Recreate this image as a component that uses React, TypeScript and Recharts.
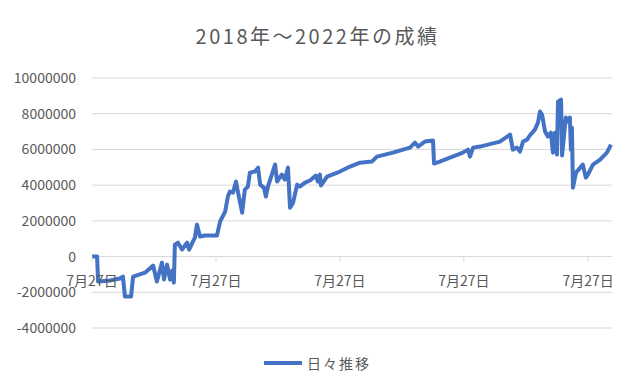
import { LineChart, Line, CartesianGrid, XAxis, YAxis, ReferenceDot } from "recharts";

// days since 2018-07-27
const days = [
  0, 15, 18, 53, 82, 91, 97, 115, 121, 156, 180, 191, 206, 212, 221, 230, 236,
  241, 244, 253, 265, 280, 286, 297, 303, 309, 318, 333, 368, 377, 392, 400,
  406, 415, 424, 430, 442, 450, 459, 465, 480, 489, 495, 506, 512, 518, 539,
  545, 559, 568, 577, 583, 592, 604, 612, 627, 642, 659, 665, 671, 674, 692,
  730, 760, 789, 824, 839, 886, 936, 951, 960, 980, 1004, 1007, 1024, 1054,
  1092, 1107, 1113, 1122, 1142, 1201, 1231, 1239, 1251, 1260, 1269, 1281,
  1289, 1304, 1313, 1319, 1325, 1334, 1342, 1351, 1357, 1363, 1369, 1372,
  1381, 1384, 1395, 1401, 1407, 1410, 1413, 1416, 1425, 1445, 1454, 1460,
  1475, 1496, 1516, 1528,
];

const values = [
  0, 0, -1400000, -1340000, -1230000, -1120000, -2240000, -2240000, -1120000,
  -900000, -500000, -1400000, -340000, -1290000, -450000, -1290000, -780000,
  -1460000, 670000, 780000, 390000, 780000, 390000, 840000, 1060000, 1790000,
  1120000, 1180000, 1180000, 1960000, 2520000, 3360000, 3640000, 3580000,
  4200000, 3580000, 2460000, 3750000, 3920000, 4700000, 4760000, 4980000,
  4030000, 3860000, 3360000, 3920000, 5150000, 4200000, 4590000, 4310000,
  4980000, 2740000, 3020000, 4030000, 3920000, 4140000, 4260000, 4540000,
  4200000, 4590000, 3980000, 4480000, 4760000, 5040000, 5260000, 5320000,
  5600000, 5820000, 6100000, 6380000, 6160000, 6440000, 6500000, 5210000,
  5320000, 5540000, 5820000, 5990000, 5600000, 6100000, 6160000, 6440000,
  6830000, 5990000, 6100000, 5880000, 6440000, 6550000, 6780000, 7110000,
  7500000, 8120000, 7950000, 7000000, 6720000, 6940000, 5820000, 6940000,
  5710000, 8680000, 8790000, 5660000, 7790000, 7560000, 7790000, 5990000,
  7220000, 3860000, 4700000, 5150000, 4420000, 4590000, 5150000, 5430000,
  5820000, 6270000,
];

const yearTicks = [0, 365, 730, 1095, 1461];
const yTicks = [-4000000, -2000000, 0, 2000000, 4000000, 6000000, 8000000, 10000000];
const tickLabel = "7月27日";
const seriesName = "日々推移";
const title = "2018年～2022年の成績";

const data = days.map((day, i) => ({ day, value: values[i] }));

const FONT = '"Noto Sans CJK JP", "Noto Sans", sans-serif';
const TEXT = "#595959";
const GRID = "#d9d9d9";
const BLUE = "#4472C4";

function YearTick(props: any) {
  const { cx, cy } = props;
  return (
    <g>
      <line x1={cx} y1={cy} x2={cx} y2={cy + 5} stroke={GRID} strokeWidth={1} />
      <text
        x={cx}
        y={cy + 23}
        textAnchor="middle"
        dominantBaseline="central"
        fill={TEXT}
        fontSize={14}
        fontFamily={FONT}
      >
        {tickLabel}
      </text>
    </g>
  );
}

export default function App() {
  return (
    <div
      style={{
        position: "relative",
        width: 633,
        height: 391,
        margin: -8,
        boxSizing: "border-box",
        border: `1px solid ${GRID}`,
        background: "#fff",
        fontFamily: FONT,
      }}
    >
      <div
        style={{
          position: "absolute",
          top: 24,
          left: 0,
          width: 633,
          textAlign: "center",
          fontSize: 20,
          lineHeight: "22px",
          letterSpacing: 2.5,
          color: TEXT,
        }}
      >
        {title}
      </div>
      <div style={{ position: "absolute", left: -1, top: -1 }}>
        <LineChart
          width={633}
          height={391}
          data={data}
          margin={{ top: 78, right: 21, bottom: 63, left: 12 }}
        >
          <CartesianGrid vertical={false} stroke={GRID} strokeDasharray="" />
          <XAxis dataKey="day" type="number" domain={[0, 1531]} hide />
          <YAxis
            width={80}
            domain={[-4000000, 10000000]}
            ticks={yTicks}
            interval={0}
            axisLine={false}
            tickLine={false}
            tickMargin={10}
            tick={{ fill: TEXT, fontSize: 14, fontFamily: FONT }}
          />
          {yearTicks.map((d) => (
            <ReferenceDot key={d} x={d} y={0} r={0} shape={YearTick} />
          ))}
          <Line
            type="linear"
            dataKey="value"
            name={seriesName}
            stroke={BLUE}
            strokeWidth={4}
            strokeLinejoin="round"
            dot={false}
            isAnimationActive={false}
          />
        </LineChart>
      </div>
      <div
        style={{
          position: "absolute",
          top: 352,
          left: 0,
          width: 633,
          display: "flex",
          justifyContent: "center",
          alignItems: "center",
          gap: 5,
          color: TEXT,
          fontSize: 14,
        }}
      >
        <span style={{ display: "inline-block", width: 38, height: 4, background: BLUE }} />
        <span style={{ letterSpacing: 2 }}>{seriesName}</span>
      </div>
    </div>
  );
}
